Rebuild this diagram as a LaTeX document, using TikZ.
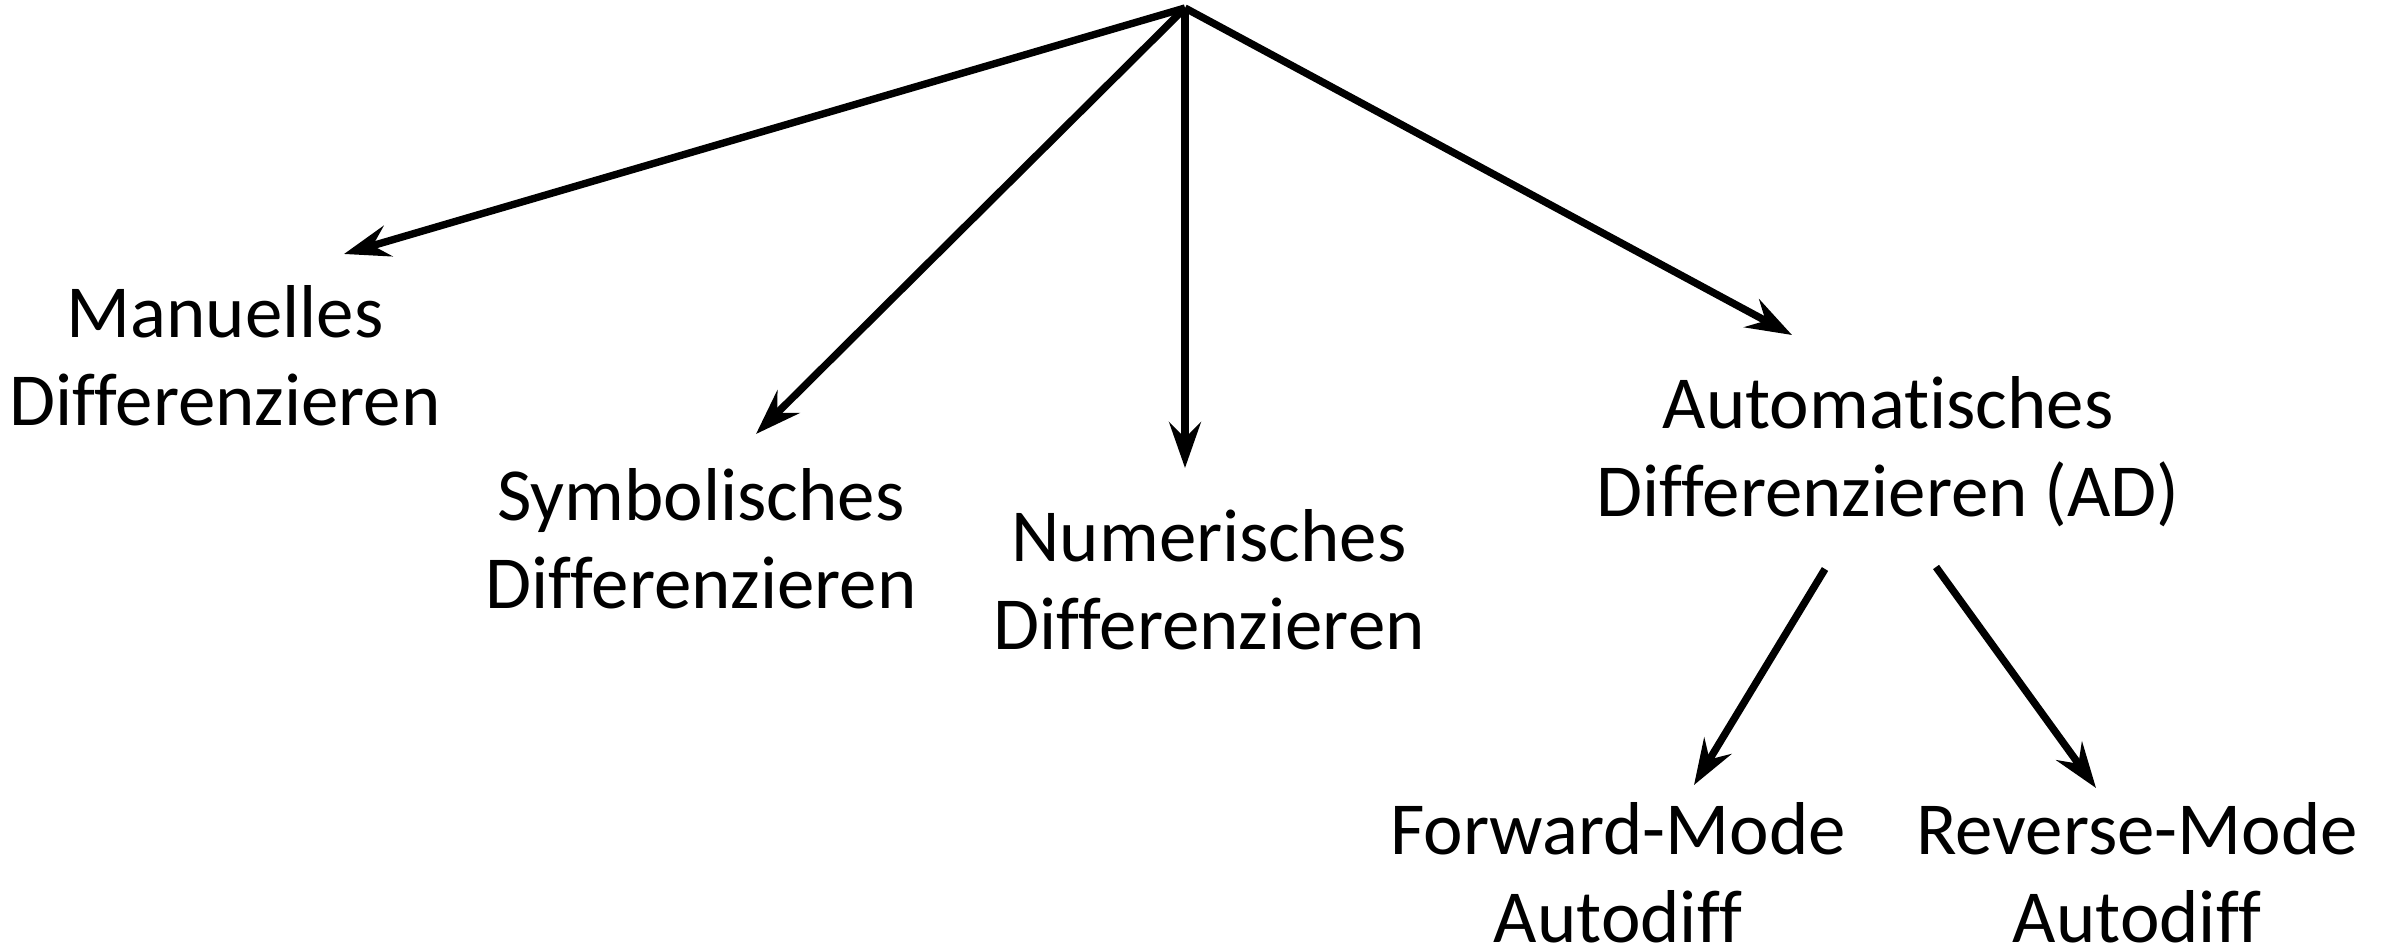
\documentclass[tikz,border=0pt]{standalone}
\usepackage{fontspec}
\setmainfont{Carlito}[Ligatures={NoCommon}]
\usetikzlibrary{arrows.meta}
\tikzset{
  label/.style={align=center, inner sep=0pt, font=\fontsize{21.3}{25}\selectfont},
  link/.style={line width=2.1pt, -{Stealth[length=13pt, width=9pt, inset=4.5pt]}},
}
\begin{document}
\begin{tikzpicture}[x=0.01cm, y=-0.01cm]
  \useasboundingbox (0,0) rectangle (2385,949);

  % root point of the tree
  \coordinate (root) at (1185,8);

  % leaf labels
  \node[label] (man) at (225,356) {Manuelles\\Differenzieren};
  \node[label] (sym) at (701,539) {Symbolisches\\Differenzieren};
  \node[label] (num) at (1209,580) {Numerisches\\Differenzieren};
  \node[label] (ad)  at (1888,452) {Automatisches\\Differenzieren (AD)};
  \node[label] (fwd) at (1618,873) {Forward-Mode\\Autodiff};
  \node[label] (rev) at (2137,873) {Reverse-Mode\\Autodiff};

  % arrow end points
  \coordinate (manT) at (344,254);
  \coordinate (symT) at (756,434);
  \coordinate (numT) at (1185,468);
  \coordinate (adT)  at (1792,335);
  \coordinate (adL)  at (1825,569);
  \coordinate (adR)  at (1936,567);
  \coordinate (fwdT) at (1694,785);
  \coordinate (revT) at (2096,788);

  \draw[link] (root) -- (manT);
  \draw[link] (root) -- (symT);
  \draw[link] (root) -- (numT);
  \draw[link] (root) -- (adT);
  \draw[link] (adL) -- (fwdT);
  \draw[link] (adR) -- (revT);
\end{tikzpicture}
\end{document}
